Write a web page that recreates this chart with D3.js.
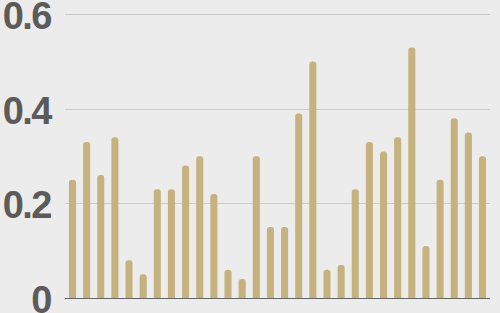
<!DOCTYPE html>
<html><head><meta charset="utf-8">
<script src="https://cdn.jsdelivr.net/npm/d3@7"></script>
<style>html,body{margin:0;padding:0;background:#ececec;overflow:hidden}</style>
</head><body>
<svg id="c" width="500" height="313"></svg>
<script>
const categories = d3.range(1, 31).map(String);
const values = [0.25,0.33,0.26,0.34,0.08,0.05,0.23,0.23,0.28,0.30,0.22,0.06,0.04,0.30,0.15,0.15,0.39,0.50,0.06,0.07,0.23,0.33,0.31,0.34,0.53,0.11,0.25,0.38,0.35,0.30];
const yTicks = [0, 0.2, 0.4, 0.6];
const yTickLabels = ["0", "0.2", "0.4", "0.6"];

const svg = d3.select("#c");
svg.append("rect").attr("width",500).attr("height",313).attr("fill","#ececec");

const x = d3.scaleBand().domain(categories).range([65,490]).paddingInner(0.5).paddingOuter(0.28);
const y = d3.scaleLinear().domain([0,0.6]).range([298,14.3]);

// gridlines
svg.append("g").selectAll("line").data(yTicks.filter(t=>t>0)).join("line")
  .attr("x1",65).attr("x2",490)
  .attr("y1",d=>Math.round(y(d))+0.5).attr("y2",d=>Math.round(y(d))+0.5)
  .attr("stroke","#cbcbcb").attr("stroke-width",1);

// labels
svg.append("g").selectAll("text").data(yTicks).join("text")
  .attr("x",51).attr("y",d=>y(d)+15)
  .attr("text-anchor","end")
  .attr("font-family","Liberation Sans, Arial, sans-serif")
  .attr("font-weight","bold").attr("font-size",38)
  .attr("letter-spacing","-1.5px")
  .attr("fill","#5b5b5b")
  .text((d,i)=>yTickLabels[i]);

// bars with rounded tops
const r = 3;
svg.append("g").selectAll("path").data(values).join("path")
  .attr("fill","#c5b27e")
  .attr("d",(d,i)=>{
    const x0 = x(categories[i]), w = x.bandwidth(), y0 = y(d), yb = y(0);
    return `M${x0},${yb}V${y0+r}Q${x0},${y0} ${x0+r},${y0}H${x0+w-r}Q${x0+w},${y0} ${x0+w},${y0+r}V${yb}Z`;
  });

// baseline
svg.append("line").attr("x1",65).attr("x2",490)
  .attr("y1",y(0)+0.5).attr("y2",y(0)+0.5)
  .attr("stroke","#666").attr("stroke-width",1.2);
</script>
</body></html>
